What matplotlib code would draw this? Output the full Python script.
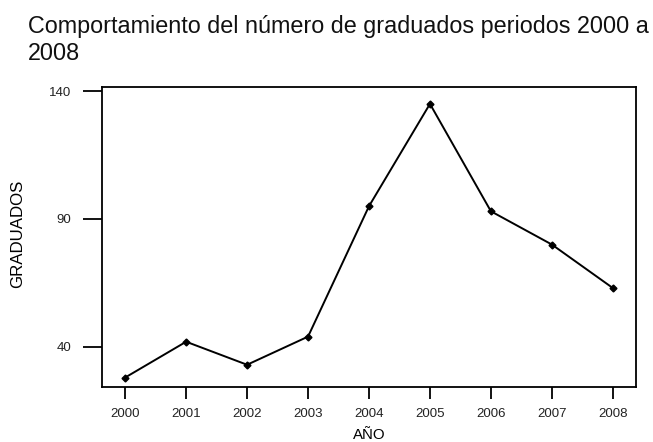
import matplotlib
matplotlib.use("Agg")
import matplotlib.pyplot as plt

plt.rcParams['font.family'] = ['Liberation Sans', 'DejaVu Sans']

years = [2000, 2001, 2002, 2003, 2004, 2005, 2006, 2007, 2008]
graduados = [28, 42, 33, 44, 95, 135, 93, 80, 63]
yticks = [40, 90, 140]
title_lines = ["Comportamiento del número de graduados periodos 2000 a", "2008"]

W, H = 653, 442
fig = plt.figure(figsize=(W/100, H/100), dpi=100)
ax = fig.add_axes([102/W, 1-387/H, (636-102)/W, (387-87)/H])

ax.plot(years, graduados, color='black', lw=1.4, marker='D', ms=3.5)
ax.set_xlim(1999.62, 2008.38)
ax.set_ylim(24.3, 141.6)
ax.set_xticks(years)
ax.set_xticklabels([str(y) for y in years])
ax.set_yticks(yticks)
for s in ax.spines.values():
    s.set_linewidth(1.3)
ax.tick_params(axis='y', length=13.5, width=1.3, labelsize=9.5, pad=8.5, colors='#222222')
ax.tick_params(axis='x', length=8.5, width=1.3, labelsize=9.5, pad=6.5, colors='#222222')
ax.tick_params(axis='both', color='black')

ax.set_xlabel("AÑO", fontsize=10.8, labelpad=6)
ax.set_ylabel("GRADUADOS", fontsize=12.2)
ax.yaxis.set_label_coords(-0.144, 0.51)

fig.text(28/W, 1-33/H, title_lines[0], fontsize=16.8, ha='left', va='baseline', color='#111111')
fig.text(28/W, 1-60/H, title_lines[1], fontsize=16.8, ha='left', va='baseline', color='#111111')

fig.savefig("out.png", dpi=100)
